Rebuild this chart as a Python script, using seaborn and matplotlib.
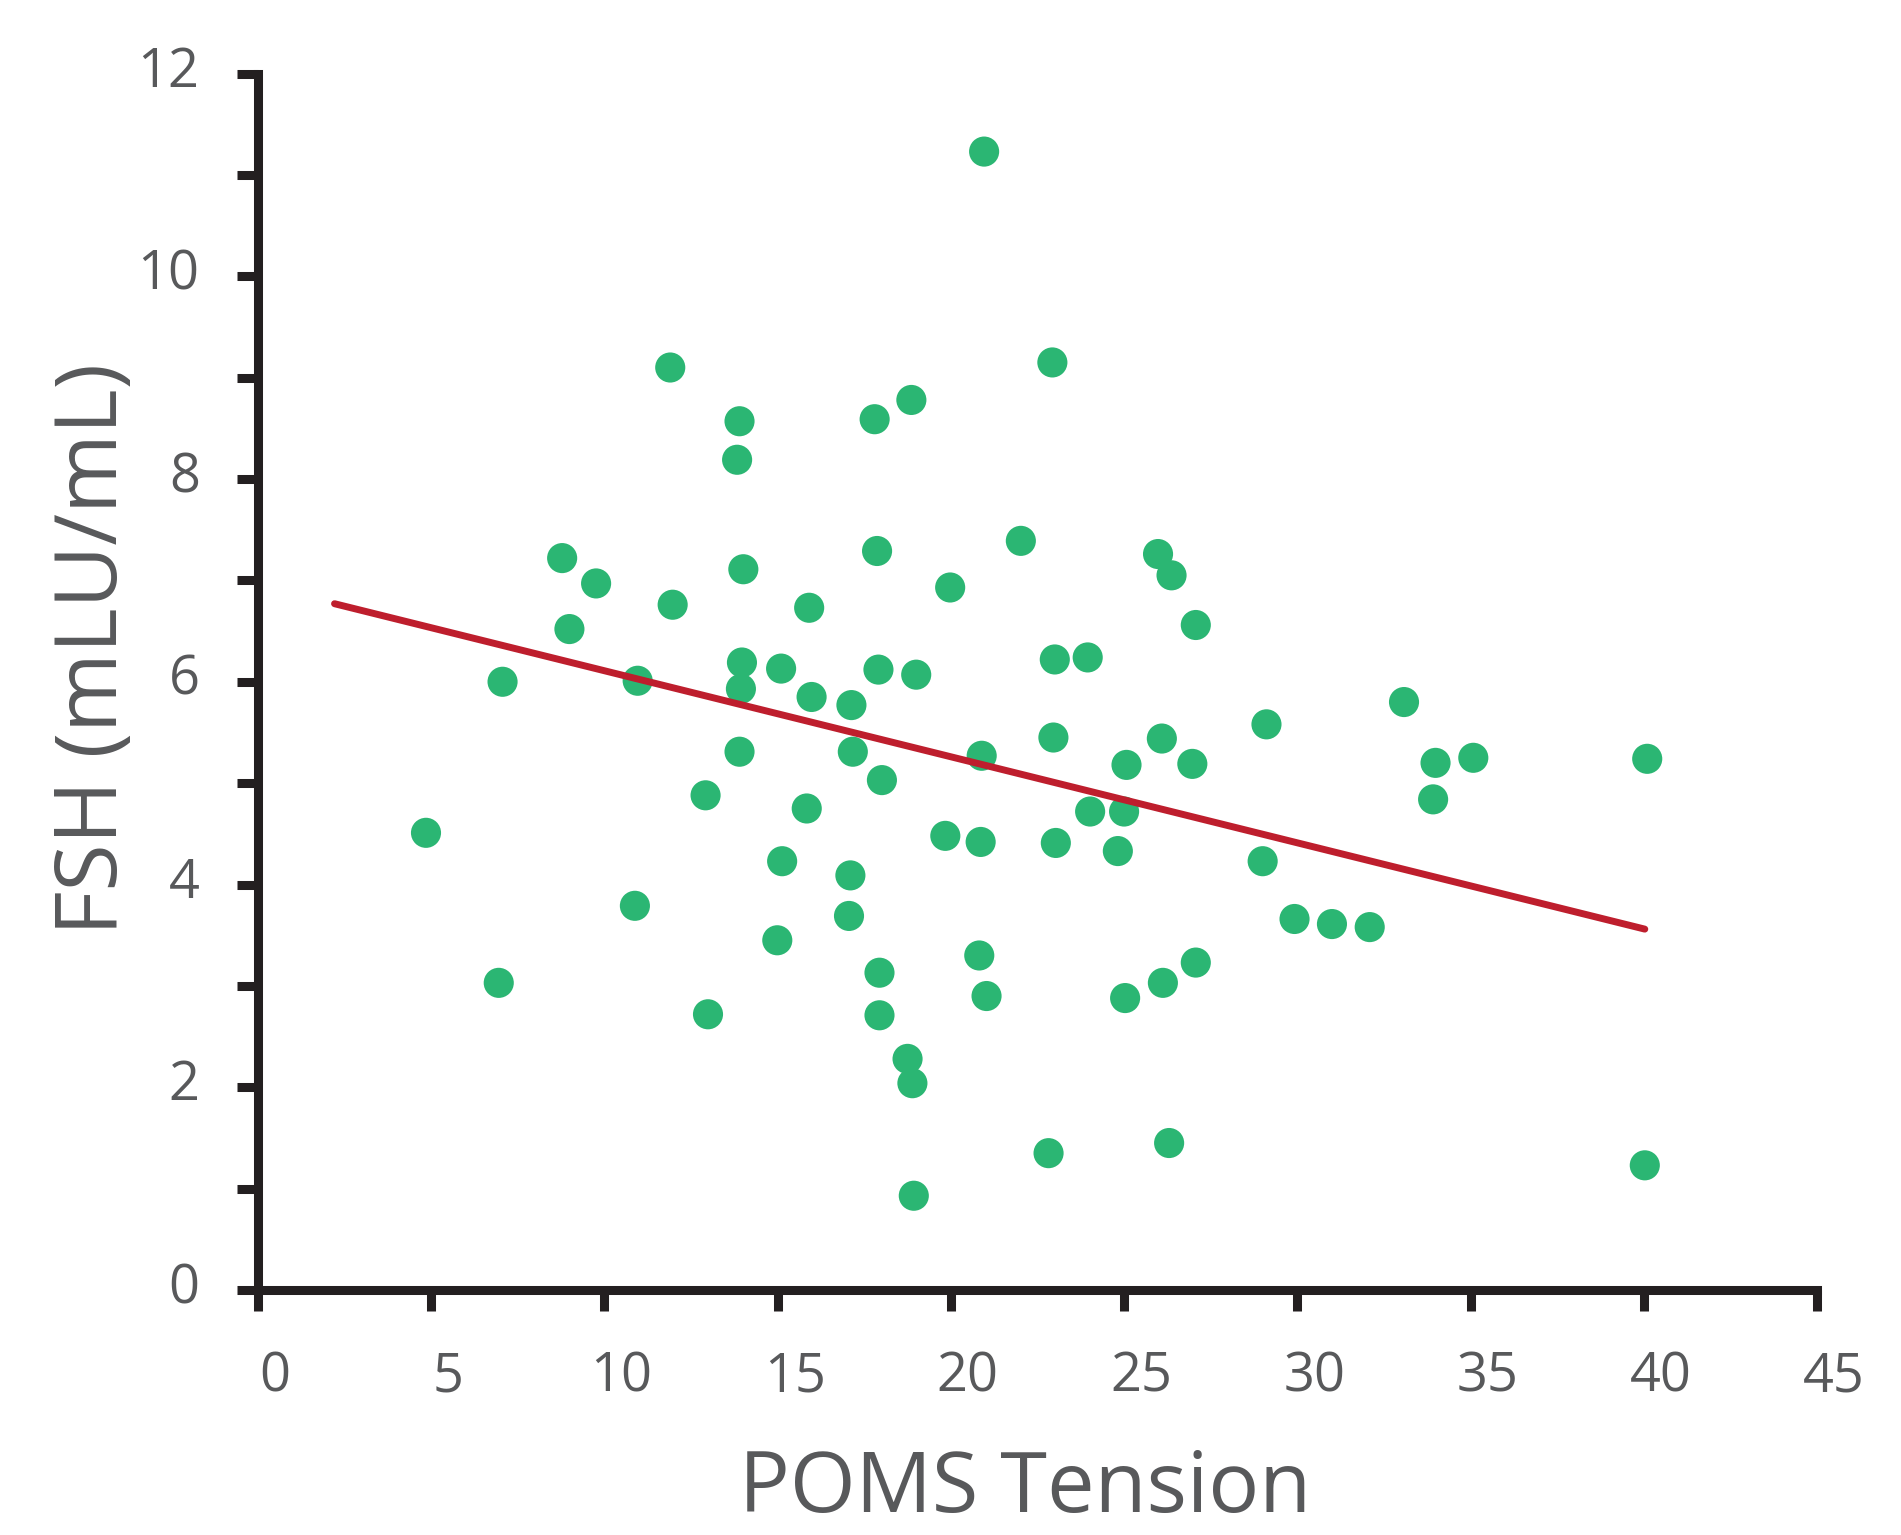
import matplotlib
matplotlib.use("Agg")
import matplotlib.pyplot as plt
import matplotlib.transforms as mtransforms
from matplotlib.ticker import MultipleLocator
import seaborn as sns
import pandas as pd

# ---- data ----
poms_tension = [4.85, 6.95, 7.06, 8.78, 8.99, 9.76, 10.88, 10.96, 11.90, 11.97,
                12.92, 12.99, 13.83, 13.90, 14.01, 13.97, 13.94, 13.90, 14.99, 15.10,
                15.13, 15.84, 15.91, 15.98, 17.06, 17.10, 17.13, 17.17, 17.80, 17.87,
                17.91, 17.94, 17.94, 18.01, 18.75, 18.86, 18.89, 18.93, 19.00, 19.84,
                19.98, 20.82, 20.86, 20.89, 20.96, 21.03, 22.02, 22.82, 22.93, 22.96,
                23.00, 23.03, 23.95, 24.02, 24.82, 25.00, 25.03, 25.07, 25.98, 26.09,
                26.12, 26.30, 26.37, 26.97, 27.07, 27.07, 29.00, 29.11, 29.92, 31.00,
                32.09, 33.08, 33.92, 33.99, 35.08, 40.03, 40.10]
fsh = [4.51, 3.03, 6.00, 7.22, 6.52, 6.97, 3.79, 6.01, 9.10, 6.76,
       4.88, 2.72, 8.19, 8.57, 7.11, 6.19, 5.93, 5.31, 3.45, 6.13,
       4.23, 4.75, 6.73, 5.85, 3.69, 4.09, 5.77, 5.31, 8.59, 7.29,
       6.12, 3.13, 2.71, 5.03, 2.28, 8.78, 2.04, 0.93, 6.07, 4.48,
       6.93, 3.30, 4.42, 5.27, 11.23, 2.90, 7.39, 1.35, 9.15, 5.45,
       6.22, 4.41, 6.24, 4.72, 4.33, 4.72, 2.88, 5.18, 7.26, 5.44,
       3.03, 1.45, 7.05, 5.19, 6.56, 3.23, 4.23, 5.58, 3.66, 3.61,
       3.58, 5.80, 4.84, 5.20, 5.25, 1.23, 5.24]
trend_x = [2.21, 40.03]
trend_y = [6.77, 3.56]
x_ticks = [0, 5, 10, 15, 20, 25, 30, 35, 40, 45]
y_ticks = [0, 2, 4, 6, 8, 10, 12]
x_label = "POMS Tension"
y_label = "FSH (mLU/mL)"

# ---- style ----
sns.set_theme(style="ticks")
plt.rcParams['font.family'] = ['Open Sans', 'DejaVu Sans']

AXIS_COLOR = "#231f20"
TEXT_COLOR = "#58595b"
DOT_COLOR = "#2bb673"
LINE_COLOR = "#be1e2d"

fig = plt.figure(figsize=(19.01, 15.35), dpi=100)
fig.patch.set_facecolor("white")
ax = fig.add_axes([0.1357, 0.1596, 0.8201, 0.7925])
ax.set_facecolor("white")

df = pd.DataFrame({"x": poms_tension, "y": fsh})
sns.scatterplot(data=df, x="x", y="y", s=470, color=DOT_COLOR,
                edgecolor="none", linewidth=0, ax=ax, zorder=3, clip_on=False)
line_df = pd.DataFrame({"x": trend_x, "y": trend_y})
sns.lineplot(data=line_df, x="x", y="y", color=LINE_COLOR, linewidth=5.0,
             ax=ax, zorder=4, sort=False)

ax.set_xlim(0, 45)
ax.set_ylim(0, 12)
ax.set_xticks(x_ticks)
ax.set_yticks(y_ticks)
ax.set_xticklabels([str(t) for t in x_ticks])
ax.set_yticklabels([str(t) for t in y_ticks])
ax.yaxis.set_minor_locator(MultipleLocator(1))

for side in ["top", "right"]:
    ax.spines[side].set_visible(False)
for side in ["left", "bottom"]:
    ax.spines[side].set_linewidth(6.5)
    ax.spines[side].set_color(AXIS_COLOR)
    ax.spines[side].set_capstyle("projecting")

ax.tick_params(axis="both", which="both", direction="out", length=15,
               width=6.5, color=AXIS_COLOR)
ax.tick_params(axis="both", which="major", labelsize=39, labelcolor=TEXT_COLOR)
ax.tick_params(axis="y", which="major", pad=27)
ax.tick_params(axis="x", which="major", pad=28)
ax.grid(False)

ax.set_xlabel(x_label, fontsize=61, color=TEXT_COLOR)
ax.set_ylabel(y_label, fontsize=62, color=TEXT_COLOR)
ax.xaxis.label.set_va("center")
ax.yaxis.label.set_va("center")
ax.xaxis.set_label_coords(0.492, -0.164)
ax.yaxis.set_label_coords(-0.105, 0.527)

fig.canvas.draw()
for lab in ax.get_xticklabels():
    lab.set_transform(lab.get_transform() +
                      mtransforms.ScaledTranslation(0.17, 0, fig.dpi_scale_trans))
for lab in ax.get_yticklabels():
    lab.set_transform(lab.get_transform() +
                      mtransforms.ScaledTranslation(0, 0.08, fig.dpi_scale_trans))

fig.savefig("out.png", dpi=100, facecolor="white")
